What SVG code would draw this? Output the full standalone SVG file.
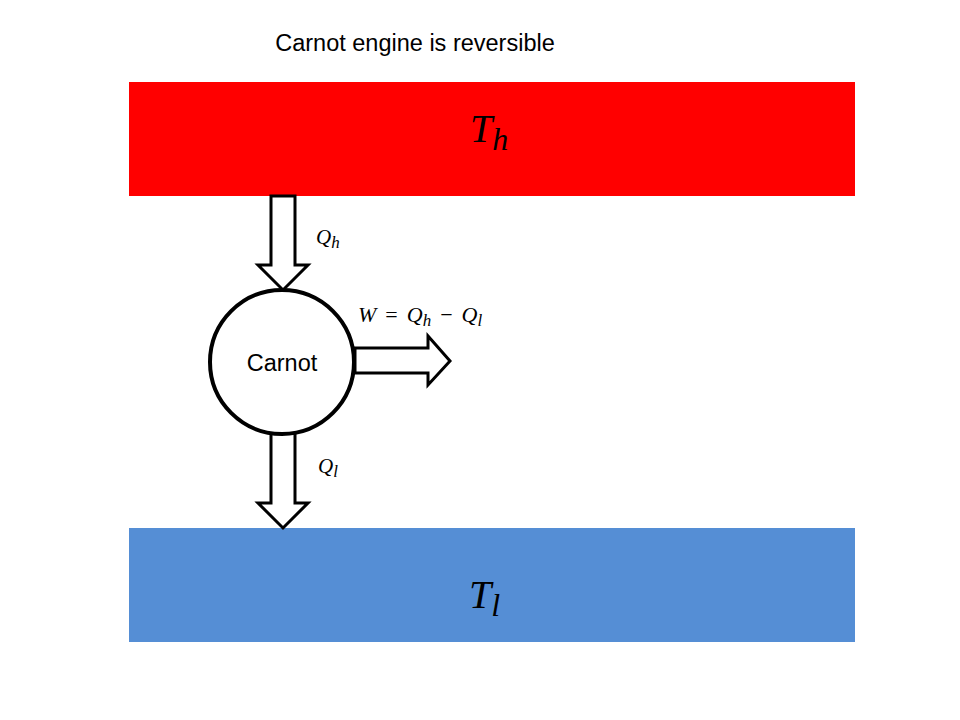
<svg xmlns="http://www.w3.org/2000/svg" width="960" height="720" viewBox="0 0 960 720">
<style>
.arrow{fill:#fff;stroke:#000;stroke-width:3;stroke-linejoin:miter}
.math{font-family:"Liberation Serif","Times New Roman",serif;font-style:italic;fill:#000}
.sans{font-family:"Liberation Sans",Arial,sans-serif;fill:#000}
</style>
<rect width="960" height="720" fill="#fff"/>
<text class="sans" x="415" y="51" font-size="23.5" text-anchor="middle">Carnot engine is reversible</text>
<g id="hot">
<rect x="129" y="82" width="726" height="114" fill="#ff0000"/>
<text class="math" x="470" y="142" font-size="40">T<tspan font-size="32" dy="8">h</tspan></text>
</g>
<g id="cold">
<rect x="129" y="528" width="726" height="114" fill="#558ed5"/>
<text class="math" x="469" y="608" font-size="40">T<tspan font-size="32" dy="8">l</tspan></text>
</g>
<g id="connectors">
<polygon class="arrow" points="271,196 295,196 295,265 308,265 283,290 258,265 271,265"/>
<polygon class="arrow" points="271,433 295,433 295,503 308,503 283,528 258,503 271,503"/>
<polygon class="arrow" points="355,348 428,348 428,336 450,361 428,385 428,373 355,373"/>
<text class="math" x="316" y="244" font-size="21">Q<tspan font-size="17" dy="4">h</tspan></text>
<text class="math" x="318" y="473" font-size="21">Q<tspan font-size="17" dy="4">l</tspan></text>
<text class="math" x="358" y="322" font-size="22">W<tspan font-style="normal" dx="9">=</tspan><tspan dx="9">Q</tspan><tspan font-size="17" dy="4">h</tspan><tspan font-style="normal" dy="-4" dx="9">−</tspan><tspan dx="9">Q</tspan><tspan font-size="17" dy="4">l</tspan></text>
</g>
<g id="carnot">
<circle cx="282" cy="362" r="72" fill="#fff" stroke="#000" stroke-width="4"/>
<text class="sans" x="282" y="371" font-size="23.5" text-anchor="middle">Carnot</text>
</g>
</svg>
